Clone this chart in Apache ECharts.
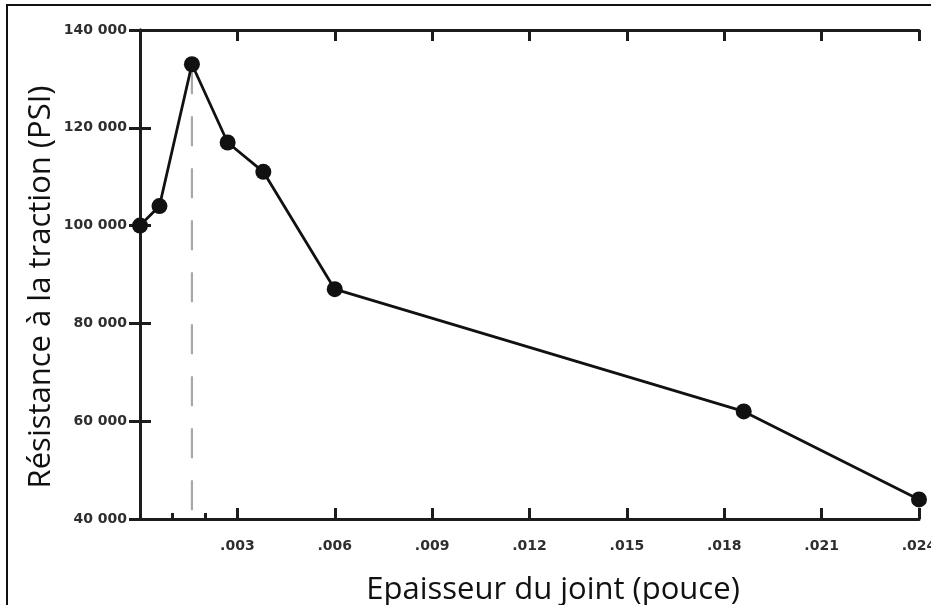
<!DOCTYPE html>
<html>
<head>
<meta charset="utf-8">
<script src="https://cdn.jsdelivr.net/npm/echarts@6/dist/echarts.min.js"></script>
<style>
html,body{margin:0;padding:0;background:#fff;}
#c{width:931px;height:605px;}
</style>
</head>
<body>
<div id="c"></div>
<script>
// Data
var thickness = [0, 0.0006, 0.0016, 0.0027, 0.0038, 0.006, 0.0186, 0.024];
var strength = [100000, 104000, 133000, 117000, 111000, 87000, 62000, 44000];
var peakX = 0.0016;
var peakY = 133000;
var xMinorTicks = [0.001, 0.002];
var xTitle = 'Epaisseur du joint (pouce)';
var yTitle = 'Résistance à la traction (PSI)';

var chart = echarts.init(document.getElementById('c'), null, {renderer: 'canvas'});

var seriesData = thickness.map(function (x, i) { return [x, strength[i]]; });
var dashData = [[peakX, peakY], [peakX, 40000]];

var axisColor = '#1c1c1c';
var labelFont = {fontFamily: 'DejaVu Sans', fontWeight: 'bold', fontSize: 14, color: '#2e2e2e'};

function fmtX(v) {
  if (v === 0) return '';
  return v.toFixed(3).replace(/^0/, '');
}
function fmtY(v) {
  return String(v).replace(/\B(?=(\d{3})+(?!\d))/g, ' ');
}

var option = {
  backgroundColor: '#ffffff',
  animation: false,
  grid: {left: 140, right: 12, top: 30, bottom: 86, containLabel: false, outerBoundsMode: 'none'},
  xAxis: [
    {
      type: 'value', position: 'bottom', min: 0, max: 0.024, interval: 0.003,
      axisLine: {show: true, lineStyle: {color: axisColor, width: 3}},
      axisTick: {show: true, inside: true, length: 11, lineStyle: {color: axisColor, width: 3}},
      axisLabel: Object.assign({margin: 20, formatter: fmtX, showMinLabel: true, showMaxLabel: true}, labelFont),
      splitLine: {show: false}
    },
    {
      type: 'value', position: 'bottom', min: 0, max: 0.024,
      axisLine: {show: false},
      axisTick: {show: true, inside: true, length: 6, customValues: xMinorTicks, lineStyle: {color: axisColor, width: 3}},
      axisLabel: {show: false},
      splitLine: {show: false}
    },
    {
      type: 'value', position: 'top', min: 0, max: 0.024, interval: 0.003,
      axisLine: {show: true, lineStyle: {color: axisColor, width: 3}},
      axisTick: {show: true, inside: true, length: 11, lineStyle: {color: axisColor, width: 3}},
      axisLabel: {show: false},
      splitLine: {show: false}
    }
  ],
  yAxis: [
    {
      type: 'value', position: 'left', min: 40000, max: 140000, interval: 20000,
      axisLine: {show: true, lineStyle: {color: axisColor, width: 3}},
      axisTick: {show: true, inside: true, length: 11, lineStyle: {color: axisColor, width: 3}},
      axisLabel: Object.assign({margin: 13, formatter: fmtY}, labelFont),
      splitLine: {show: false}
    },
    {
      type: 'value', position: 'right', min: 40000, max: 140000, interval: 20000,
      axisLine: {show: true, lineStyle: {color: axisColor, width: 3}},
      axisTick: {show: true, inside: true, length: 11, lineStyle: {color: axisColor, width: 3}},
      axisLabel: {show: false},
      splitLine: {show: false}
    }
  ],
  series: [
    {
      type: 'line', xAxisIndex: 0, yAxisIndex: 0,
      data: dashData,
      showSymbol: false, symbol: 'none',
      lineStyle: {color: '#a8a8a8', width: 2.2, type: [30, 22]},
      z: 1, silent: true
    },
    {
      type: 'line', xAxisIndex: 0, yAxisIndex: 0,
      data: seriesData,
      symbol: 'circle', symbolSize: 16,
      itemStyle: {color: '#111111'},
      lineStyle: {color: '#111111', width: 2.8},
      clip: false, z: 3
    }
  ],
  graphic: [
    {
      type: 'rect', silent: true,
      shape: {x: 7, y: 5, width: 940, height: 620},
      style: {fill: 'none', stroke: '#111', lineWidth: 2}
    },
    {
      type: 'text', silent: true, x: 553, y: 590,
      style: {text: xTitle, fontFamily: 'Open Sans', fontSize: 31, fill: '#111', align: 'center', verticalAlign: 'middle'}
    },
    {
      type: 'text', silent: true, x: 41, y: 287, rotation: Math.PI / 2,
      style: {text: yTitle, fontFamily: 'Open Sans', fontSize: 31, fill: '#111', align: 'center', verticalAlign: 'middle'}
    }
  ]
};

chart.setOption(option);
</script>
</body>
</html>
